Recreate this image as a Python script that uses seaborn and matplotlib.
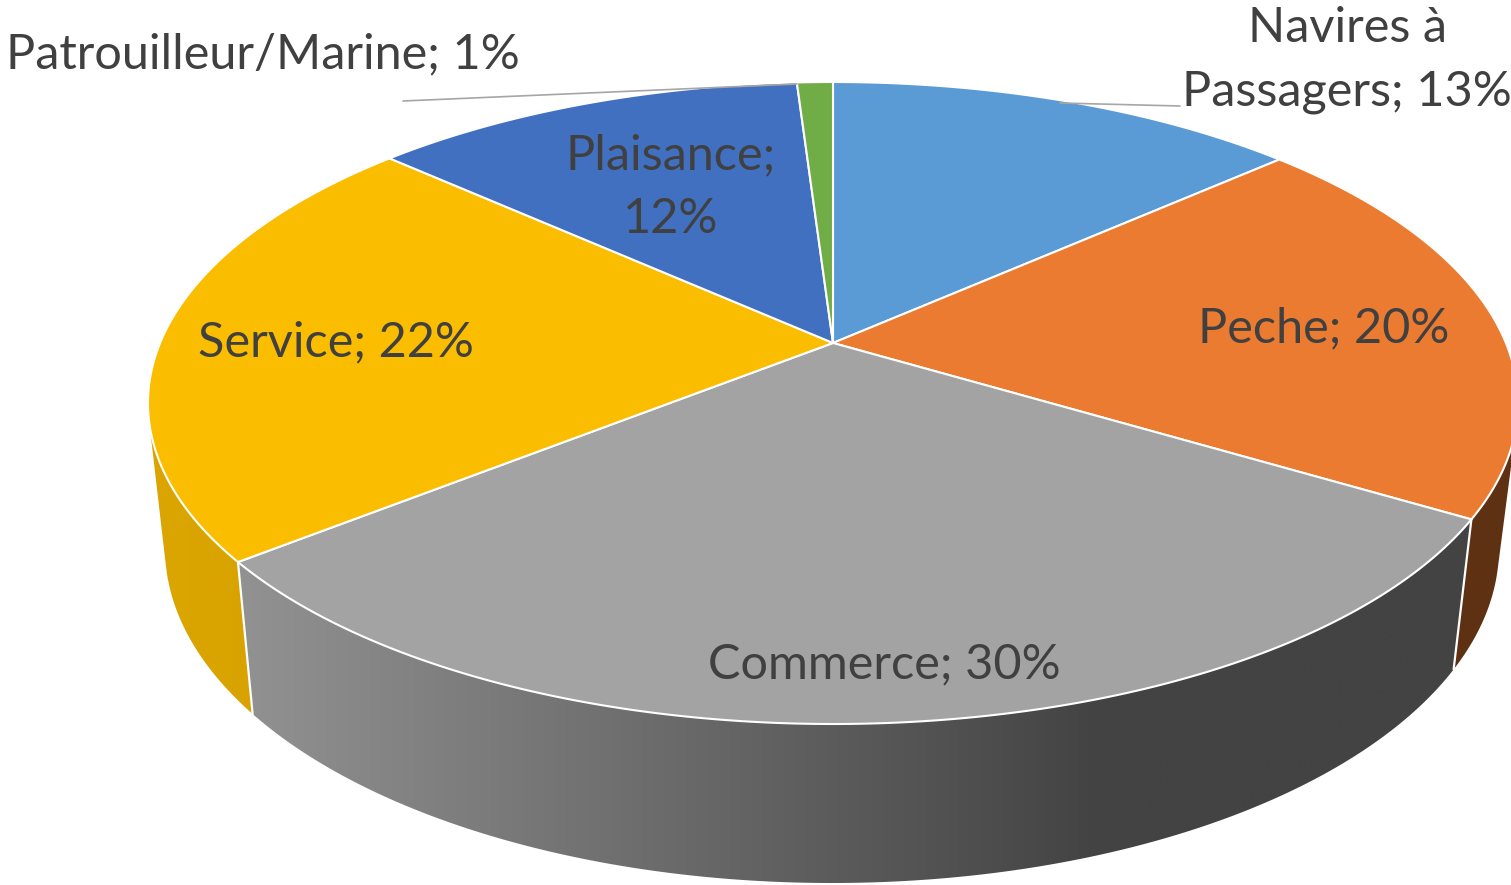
import numpy as np
import pandas as pd
import matplotlib
matplotlib.use("Agg")
import matplotlib.pyplot as plt
from matplotlib.colors import to_rgb
from matplotlib.patches import Polygon
import seaborn as sns

categories = ["Navires à\nPassagers", "Peche", "Commerce", "Service", "Plaisance", "Patrouilleur/Marine"]
values = [13.2, 19.9, 30.2, 22.1, 12.1, 1.0]
colors = ["#5B9BD5", "#EB7B31", "#A3A3A3", "#FBBD00", "#4270C0", "#70AD47"]

sns.set_theme(style="white")
plt.rcParams["font.family"] = ["Lato", "DejaVu Sans"]
palette = sns.color_palette(colors)
df = pd.DataFrame({"cat": categories, "val": values})
df["share"] = df["val"] / df["val"].sum()
edges = np.concatenate([[0], np.cumsum(df["share"])]) * 2 * np.pi

fig = plt.figure(figsize=(15.11, 8.85), dpi=100, facecolor="white")
ax = fig.add_axes([0, 0, 1, 1])

# perspective disc: maps pie angle to a point of the tilted top / bottom ellipse
K = -0.187
TOP = (833, 403, 685, 321)
BOT = (832, 548, 667, 335)

def project(theta, r=1.0, ell=TOP):
    X, Y = r * np.sin(theta), -r * np.cos(theta)
    d = 1 + K * Y
    U = X * np.sqrt(1 - K ** 2) / d
    V = (Y + K) / d
    return ell[0] + ell[2] * U, ell[1] + ell[3] * V

def arc(t0, t1, ell=TOP):
    t = np.linspace(t0, t1, 300)
    return np.column_stack(project(t, 1.0, ell))

def hull(pts):
    pts = sorted(map(tuple, pts))
    def half(seq):
        out = []
        for p in seq:
            while len(out) > 1 and ((out[-1][0] - out[-2][0]) * (p[1] - out[-2][1])
                                    - (out[-1][1] - out[-2][1]) * (p[0] - out[-2][0])) <= 0:
                out.pop()
            out.append(p)
        return out[:-1]
    return np.array(half(pts) + half(pts[::-1]))

# side walls: (slice index, left colour, right colour, ramp end in x, outline is convex hull, z)
walls = [(1, "#613315", "#5F3113", None, True, 1.0),
         (3, "#DBA600", "#D5A000", None, True, 1.0),
         (2, "#929292", "#434343", 1100, False, 1.5)]
for i, left_c, right_c, xend, use_hull, z in walls:
    top = arc(edges[i], edges[i + 1], TOP)
    bot = arc(edges[i], edges[i + 1], BOT)
    poly = hull(np.vstack([top, bot])) if use_hull else np.vstack([top, bot[::-1]])
    patch = Polygon(poly, closed=True, fc="none", ec="none", transform=ax.transData)
    ax.add_patch(patch)
    x0, x1 = poly[:, 0].min(), poly[:, 0].max()
    xs = np.linspace(x0, x1, 512)
    ramp = np.clip((xs - x0) / ((xend or x1) - x0), 0, 1)[None, :, None]
    c0, c1 = np.array(to_rgb(left_c)), np.array(to_rgb(right_c))
    im = ax.imshow(c0 + ramp * (c1 - c0), extent=(x0, x1, 885, 0), aspect="auto",
                   zorder=z, interpolation="bilinear")
    im.set_clip_path(patch)

ax.set_xlim(0, 1511)
ax.set_ylim(885, 0)
ax.axis("off")

# wall separators
for e in (edges[2], edges[3]):
    xa, ya = project(e, 1.0, TOP)
    xb, yb = project(e, 1.0, BOT)
    ax.plot([xa, xb], [ya, yb], color="white", lw=1.6, zorder=2)

# top faces
cx, cy = project(0.0, 0.0)
for i in range(len(values)):
    pts = np.vstack([[cx, cy], arc(edges[i], edges[i + 1])])
    ax.fill(pts[:, 0], pts[:, 1], facecolor=palette[i], edgecolor="white", lw=1.5,
            zorder=3, joinstyle="round")

# leader lines
ax.plot([1060, 1180], [103, 106], color="#A6A6A6", lw=1.2, zorder=4)
ax.plot([403, 797], [101, 84], color="#A6A6A6", lw=1.2, zorder=4)

# labels
label_pos = [(1347, 60), (1324, 328), (884, 664), (336, 342), (671, 187), (263, 54)]
wraps = ["{c}; {v}", "{c}; {v}", "{c}; {v}", "{c}; {v}", "{c};\n{v}", "{c}; {v}"]
for (x, y), w, c, v in zip(label_pos, wraps, df["cat"], df["val"]):
    s = w.format(c=c, v=f"{v:.0f}%")
    ax.text(x, y, s, ha="center", va="center", color="#404040", fontsize=35,
            zorder=5, linespacing=1.54)

fig.savefig("out.png", dpi=100, facecolor="white")
